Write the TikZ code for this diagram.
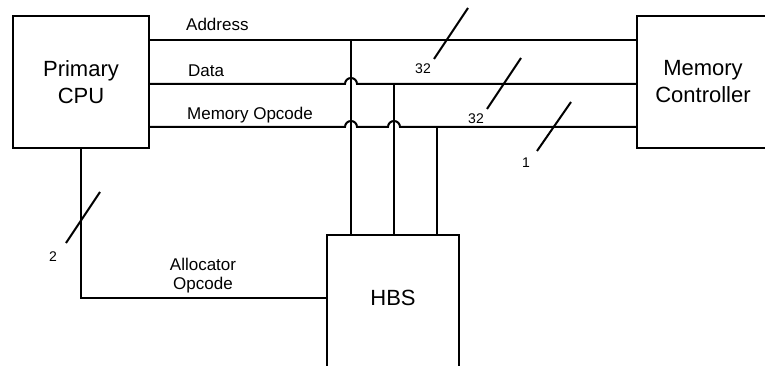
\documentclass[tikz,border=0pt]{standalone}
\usepackage{fontspec}
\setmainfont{Liberation Sans}
\begin{document}
\begin{tikzpicture}[
    x=1pt, y=-1pt,
    every node/.style={font=\fontsize{17}{19}\selectfont},
    blockbox/.style={
        draw, line width=1.8pt, outer sep=0pt,
        align=center, font=\fontsize{22}{27}\selectfont
    },
    bus/.style={line width=2pt},
    sig/.style={anchor=base west, inner sep=0pt},
    num/.style={font=\fontsize{14}{16}\selectfont, inner sep=0pt}
]
\clip (0,0) rectangle (765,366);

% ----------------------------------------------------------
% Bloecke: Primary CPU | Memory Controller | HBS
% ----------------------------------------------------------
\node[blockbox, minimum width=136pt, minimum height=132pt] (cpu) at (81,82) {Primary\\CPU};
\node[blockbox, minimum width=132pt, minimum height=132pt] (mc) at (703,82) {Memory\\Controller};
\node[blockbox, minimum width=132pt, minimum height=140pt, anchor=north] (hbs) at (393,235) {};
\node[blockbox, draw=none] (hbslbl) at (393,298) {HBS};

% Hoehen der Busse und Abgriffe zum HBS
\coordinate (yA)  at (0,40);
\coordinate (yD)  at (0,84);
\coordinate (yO)  at (0,127);
\coordinate (yAl) at (0,298);
\coordinate (tA)  at (351,40);
\coordinate (tD)  at (394,84);
\coordinate (tO)  at (437,127);

% ----------------------------------------------------------
% Busse CPU -> Memory Controller (mit Bruecken ueber die Abgriffe)
% ----------------------------------------------------------
\draw[bus] (cpu.east |- yA) -- (mc.west |- yA);
\draw[bus] (cpu.east |- yD) -- ([xshift=-6pt]tA |- yD)
    arc[start angle=180, end angle=360, radius=6] -- (mc.west |- yD);
\draw[bus] (cpu.east |- yO) -- ([xshift=-6pt]tA |- yO)
    arc[start angle=180, end angle=360, radius=6] -- ([xshift=-6pt]tD |- yO)
    arc[start angle=180, end angle=360, radius=6] -- (mc.west |- yO);

\node[sig] (lAddr) at (186,31)  {Address};
\node[sig] (lData) at (188,77)  {Data};
\node[sig] (lOpc)  at (187,120) {Memory Opcode};

% Abgriffe nach unten zum HBS
\draw[bus] (tA) -- (tA |- hbs.north);
\draw[bus] (tD) -- (tD |- hbs.north);
\draw[bus] (tO) -- (tO |- hbs.north);

% Allocator-Leitung CPU -> HBS
\draw[bus] (cpu.south) |- (hbs.west |- yAl);
\node[align=center, inner sep=0pt] (lAlloc) at (203,276) {Allocator\\Opcode};

% ----------------------------------------------------------
% Busbreiten (Schraegstriche)
% ----------------------------------------------------------
\draw[bus] (434,59)  -- ++(34,-51);
\draw[bus] (487,109) -- ++(34,-51);
\draw[bus] (537,151) -- ++(34,-49);
\draw[bus] (66,243)  -- ++(34,-51);
\node[num] (wA)  at (423,69)  {32};
\node[num] (wD)  at (476,119) {32};
\node[num] (wO)  at (526,163) {1};
\node[num] (wAl) at (53,257)  {2};

\end{tikzpicture}
\end{document}
